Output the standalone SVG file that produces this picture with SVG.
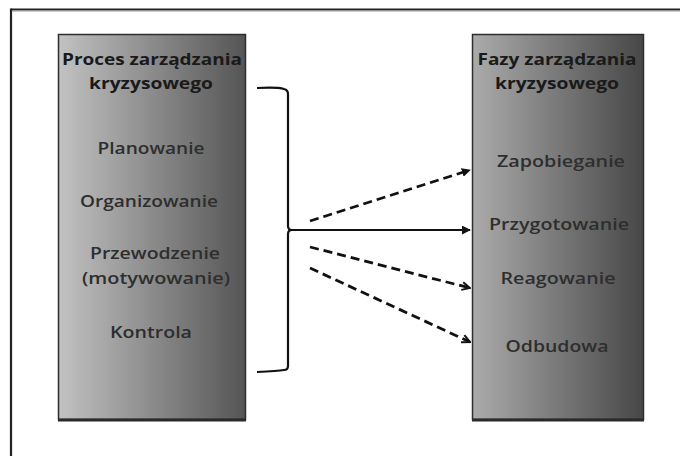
<svg xmlns="http://www.w3.org/2000/svg" width="680" height="456" viewBox="0 0 680 456">
<defs>
<linearGradient id="gL" x1="0" y1="0" x2="1" y2="0">
<stop offset="0" stop-color="#c2c2c2"/>
<stop offset="1" stop-color="#555555"/>
</linearGradient>
<linearGradient id="gR" x1="0" y1="0" x2="1" y2="0">
<stop offset="0" stop-color="#ababab"/>
<stop offset="1" stop-color="#474747"/>
</linearGradient>
<marker id="ah" viewBox="0 0 10 10" refX="9" refY="5" markerWidth="9" markerHeight="9" markerUnits="userSpaceOnUse" orient="auto">
<path d="M0,0 L10,5 L0,10 Z" fill="#111"/>
</marker>
<marker id="ao" viewBox="0 0 10 10" refX="9" refY="5" markerWidth="10" markerHeight="10" markerUnits="userSpaceOnUse" orient="auto">
<path d="M1,1 L9,5 L1,9" fill="none" stroke="#111" stroke-width="2"/>
</marker>
<style>
.box{stroke:#2e2e2e;stroke-width:1.5}
.shadow{stroke:#2a2a2a;stroke-width:3}
.t{font-family:"Open Sans","Liberation Sans",sans-serif;text-anchor:middle;fill:#2e2e2e;font-size:16.5px;font-weight:600}
.h{font-family:"Open Sans","Liberation Sans",sans-serif;text-anchor:middle;fill:#1a1a1a;font-size:16px;font-weight:700}
.line{fill:none;stroke:#111;stroke-width:2.2}
.dash{fill:none;stroke:#111;stroke-width:2.8;stroke-dasharray:9 5}
</style>
</defs>
<g id="frame">
<line x1="11" y1="9.5" x2="680" y2="9.5" stroke="#222" stroke-width="2.2"/>
<line x1="11" y1="11" x2="680" y2="11" stroke="#999" stroke-width="1"/>
<line x1="11" y1="8.5" x2="11" y2="456" stroke="#222" stroke-width="2.2"/>
</g>
<g id="process">
<rect class="box" x="58.5" y="34.5" width="187" height="385" fill="url(#gL)"/>
<line class="shadow" x1="58" y1="420" x2="246" y2="420"/>
<text class="h" x="152" y="65" textLength="180" lengthAdjust="spacingAndGlyphs">Proces zarządzania</text>
<text class="h" x="151" y="89" textLength="124" lengthAdjust="spacingAndGlyphs">kryzysowego</text>
<text class="t" x="151" y="154" textLength="107" lengthAdjust="spacingAndGlyphs">Planowanie</text>
<text class="t" x="149" y="207" textLength="138" lengthAdjust="spacingAndGlyphs">Organizowanie</text>
<text class="t" x="155" y="259" textLength="130" lengthAdjust="spacingAndGlyphs">Przewodzenie</text>
<text class="t" x="156" y="284" textLength="148" lengthAdjust="spacingAndGlyphs">(motywowanie)</text>
<text class="t" x="151" y="338" textLength="82" lengthAdjust="spacingAndGlyphs">Kontrola</text>
</g>
<g id="phases">
<rect class="box" x="472.5" y="34.5" width="171" height="385" fill="url(#gR)"/>
<line class="shadow" x1="472" y1="420" x2="644" y2="420"/>
<text class="h" x="557" y="65" textLength="159" lengthAdjust="spacingAndGlyphs">Fazy zarządzania</text>
<text class="h" x="557" y="89" textLength="124" lengthAdjust="spacingAndGlyphs">kryzysowego</text>
<text class="t" x="561" y="167" textLength="128" lengthAdjust="spacingAndGlyphs">Zapobieganie</text>
<text class="t" x="559" y="230" textLength="140" lengthAdjust="spacingAndGlyphs">Przygotowanie</text>
<text class="t" x="558" y="284" textLength="115" lengthAdjust="spacingAndGlyphs">Reagowanie</text>
<text class="t" x="557" y="352" textLength="103" lengthAdjust="spacingAndGlyphs">Odbudowa</text>
</g>
<g id="connectors">
<path class="line" d="M257,88 Q278,87 284,89 Q288,90 288,94 L288,226 Q288,230 292,230"/>
<path class="line" d="M292,230 Q288,230 288,234 L288,366 Q288,370 284,370 Q278,371 257,372"/>
<path class="line" d="M292,230 L470,230" marker-end="url(#ah)"/>
<path class="dash" d="M310,221 L470,170" marker-end="url(#ah)"/>
<path class="dash" d="M310,247 L470,288" marker-end="url(#ao)"/>
<path class="dash" d="M310,268 L470,342" marker-end="url(#ao)"/>
</g>
</svg>
